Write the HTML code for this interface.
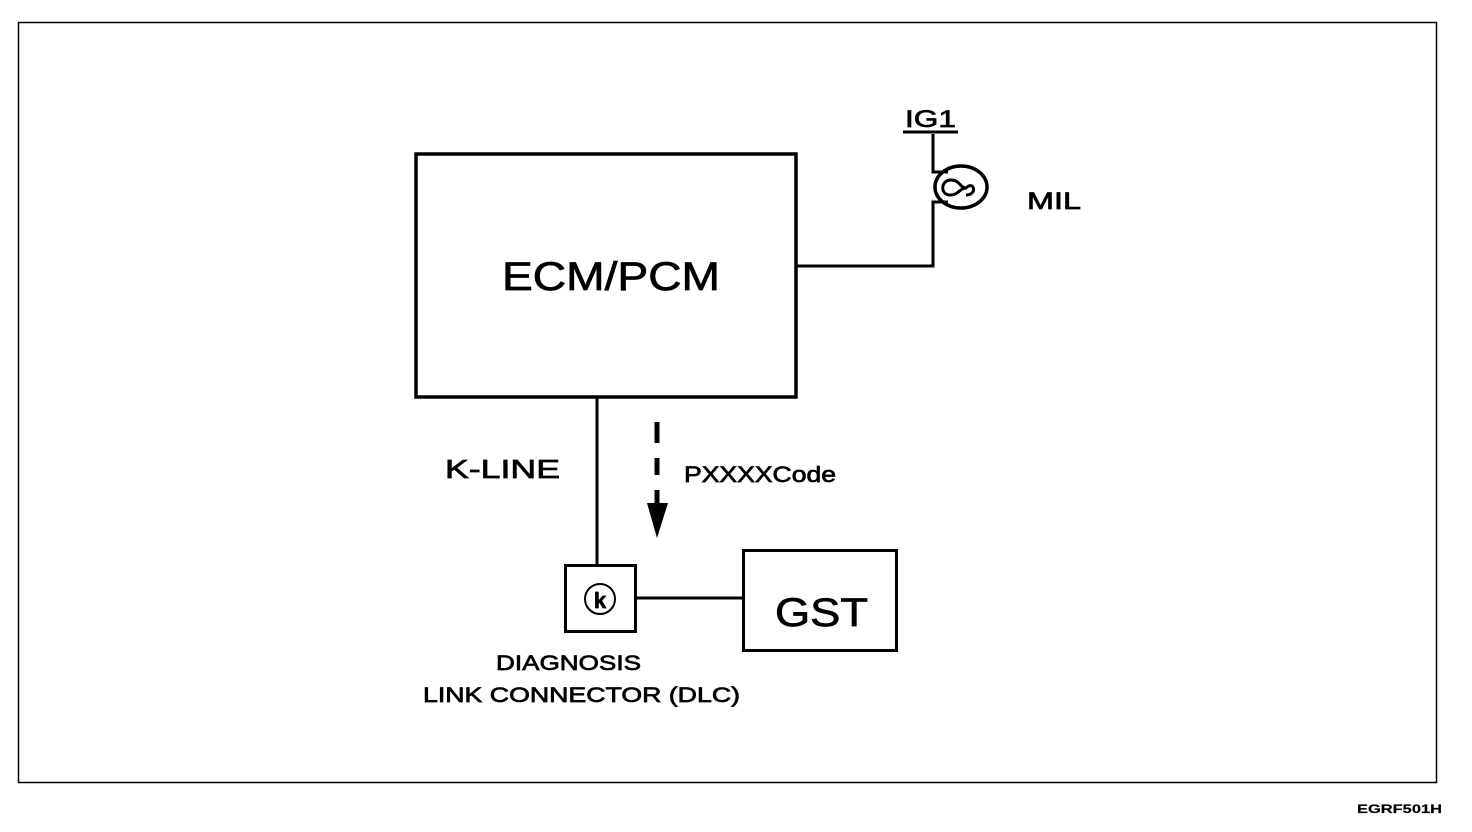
<!DOCTYPE html>
<html><head><meta charset="utf-8"><style>
html,body{margin:0;padding:0;background:#fff;}
svg{display:block;}
text{font-family:"Liberation Sans",Arial,sans-serif;fill:#000;stroke:#000;stroke-width:0.7;}
</style></head><body>
<svg width="1472" height="832" viewBox="0 0 1472 832" xmlns="http://www.w3.org/2000/svg">
<rect x="18.5" y="22.5" width="1418" height="760" fill="none" stroke="#000" stroke-width="1.5"/>
<!-- ECM box -->
<rect x="416" y="154" width="380" height="243" fill="none" stroke="#000" stroke-width="3.5"/>
<text x="502" y="290" font-size="40" textLength="218" lengthAdjust="spacingAndGlyphs">ECM/PCM</text>
<!-- MIL wiring -->
<polyline points="796,266 933,266 933,202 948,202" fill="none" stroke="#000" stroke-width="3"/>
<polyline points="933,134 933,172 948,172" fill="none" stroke="#000" stroke-width="3"/>
<line x1="903" y1="132" x2="958" y2="132" stroke="#000" stroke-width="3"/>
<text x="905" y="127" font-size="24" textLength="51" lengthAdjust="spacingAndGlyphs">IG1</text>
<ellipse cx="961" cy="187" rx="26" ry="21" fill="none" stroke="#000" stroke-width="3.5"/>
<path d="M951,180 C940,180 940,196 951,195 C958,195 960,188 966,188 M951,180 C960,180 960,188 966,188 C974,180 978,195 966,195" fill="none" stroke="#000" stroke-width="3"/>
<text x="1027" y="209" font-size="24" textLength="54" lengthAdjust="spacingAndGlyphs">MIL</text>
<!-- K-line -->
<line x1="597" y1="397" x2="597" y2="565" stroke="#000" stroke-width="3"/>
<text x="445" y="478" font-size="26" textLength="115" lengthAdjust="spacingAndGlyphs">K-LINE</text>
<!-- dashed arrow -->
<line x1="657" y1="422" x2="657" y2="443" stroke="#000" stroke-width="5"/>
<line x1="657" y1="458" x2="657" y2="475" stroke="#000" stroke-width="5"/>
<line x1="657" y1="490" x2="657" y2="505" stroke="#000" stroke-width="5"/>
<polygon points="647,503 668,503 657,538" fill="#000"/>
<text x="684" y="482" font-size="22" textLength="152" lengthAdjust="spacingAndGlyphs">PXXXXCode</text>
<!-- DLC -->
<rect x="565.5" y="565.5" width="70" height="66" fill="none" stroke="#000" stroke-width="3"/>
<circle cx="600" cy="599" r="15" fill="none" stroke="#000" stroke-width="2"/>
<text x="600" y="608" font-size="22" font-weight="bold" text-anchor="middle">k</text>
<line x1="636" y1="598" x2="743" y2="598" stroke="#000" stroke-width="3"/>
<text x="496" y="670" font-size="21" textLength="145" lengthAdjust="spacingAndGlyphs">DIAGNOSIS</text>
<text x="423" y="702" font-size="21" textLength="317" lengthAdjust="spacingAndGlyphs">LINK CONNECTOR (DLC)</text>
<!-- GST -->
<rect x="743.5" y="550.5" width="153" height="100" fill="none" stroke="#000" stroke-width="3"/>
<text x="775" y="626" font-size="40" textLength="93" lengthAdjust="spacingAndGlyphs">GST</text>
<text x="1357" y="813" font-size="12" font-weight="bold" textLength="85" lengthAdjust="spacingAndGlyphs" style="stroke-width:0.2">EGRF501H</text>
</svg>
</body></html>
